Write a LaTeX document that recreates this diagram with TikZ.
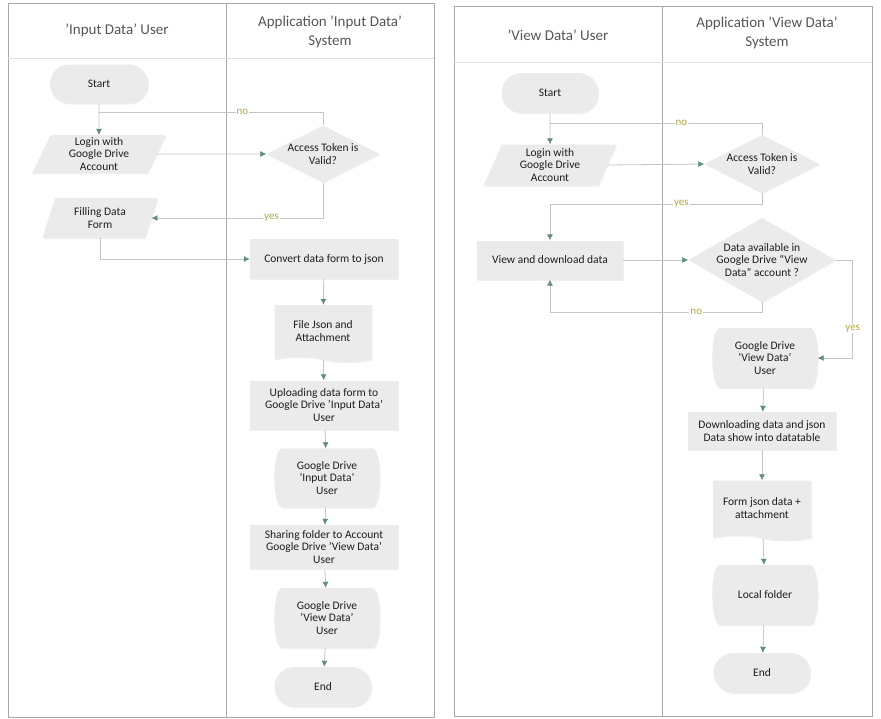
\documentclass[tikz,border=0pt]{standalone}
\usepackage{fontspec}
\setmainfont{Carlito}
\usetikzlibrary{shapes.geometric,shapes.misc,shapes.symbols,arrows.meta,shadows,backgrounds}
\definecolor{boxgray}{HTML}{EBEBEB}
\definecolor{linegray}{HTML}{C4C4C4}
\definecolor{tipteal}{HTML}{5E8C7E}
\definecolor{lblolive}{HTML}{B5A642}
\definecolor{lanegray}{HTML}{A8A8A8}
\definecolor{txtgray}{HTML}{1E1E1E}
\tikzset{
  boxtext/.style={text=txtgray, font=\fontsize{11.5}{12.5}\selectfont, align=center, inner sep=0pt},
  box/.style={boxtext, fill=boxgray, drop shadow={shadow xshift=1pt,shadow yshift=-1pt,opacity=0.12}},
  process/.style={box, rectangle, minimum width=148, minimum height=40},
  terminal/.style={box, rounded rectangle, minimum width=97, minimum height=40},
  io/.style={box, trapezium, trapezium left angle=71, trapezium right angle=109,
    trapezium stretches=true, minimum width=134, minimum height=38},
  decision/.style={box, diamond, shape aspect=2, inner sep=-2pt},
  document/.style={box, tape, tape bend top=none, tape bend bottom=out and in, minimum width=97, minimum height=57},
  stored/.style={boxtext, minimum width=105, minimum height=59},
  link/.style={draw=linegray, line width=0.8pt},
  flow/.style={link, -{Latex[color=tipteal,length=6pt,width=6pt]}},
  lbl/.style={text=lblolive, fill=white, inner sep=1pt, font=\fontsize{11}{12}\selectfont},
  lane/.style={draw=lanegray, line width=0.8pt},
  lanehead/.style={font=\fontsize{15}{19}\selectfont, text=txtgray!75, align=center}
}
\begin{document}
\begin{tikzpicture}[x=1pt,y=-1pt]
  \useasboundingbox (0,0) rectangle (881,718);
  % swimlanes
  \draw[lane] (8,3) rectangle (434,717);
  \draw[lane] (226,3) -- (226,717);
  \draw[lanegray!35] (8,58) -- (434,58);
  \draw[lane] (454,6) rectangle (872,716);
  \draw[lane] (662,6) -- (662,716);
  \draw[lanegray!35] (454,62) -- (872,62);
  \node[lanehead] (head1) at (117,30) {'Input Data' User};
  \node[lanehead] (head2) at (330,32) {Application 'Input Data'\\System};
  \node[lanehead] (head3) at (558,35) {'View Data' User};
  \node[lanehead] (head4) at (767,33) {Application 'View Data'\\System};

  % input data
  \node[terminal, minimum width=98, minimum height=39] (start1) at (99,84) {Start};
  \node[io] (login1) at (99,154) {Login with\\Google Drive\\Account};
  \node[io, minimum width=115, minimum height=40] (fill1) at (100,218) {Filling Data\\Form};
  \node[decision, minimum width=113, minimum height=57] (token1) at (323,154) {Access Token is\\Valid?};
  \node[process] (convert1) at (324,259) {Convert data form to json};
  \node[document] (file1) at (323,331) {File Json and\\Attachment};
  \node[process, minimum height=49] (upload1) at (324,405) {Uploading data form to\\Google Drive 'Input Data'\\User};
  \node[stored] (gdin1) at (327,478) {Google Drive\\'Input Data'\\User};
  \node[process, minimum height=44] (share1) at (324,547) {Sharing folder to Account\\Google Drive 'View Data'\\User};
  \node[stored, minimum height=60] (gdview1) at (327,618) {Google Drive\\'View Data'\\User};
  \node[terminal] (end1) at (323,687) {End};
  \coordinate (join1) at (99,112);

  % view data
  \node[terminal] (start2) at (550,93) {Start};
  \node[io, minimum width=133, minimum height=41] (login2) at (550,165) {Login with\\Google Drive\\Account};
  \node[decision, minimum width=115, minimum height=58] (token2) at (762,164) {Access Token is\\Valid?};
  \node[process, minimum width=146, minimum height=39] (view2) at (550,260) {View and download data};
  \node[decision, shape aspect=1.75, inner sep=-3pt, minimum width=147, minimum height=84] (avail2) at (762,260) {Data available in\\Google Drive ``View\\Data'' account ?};
  \node[stored, minimum height=60] (gdview2) at (765,358) {Google Drive\\'View Data'\\User};
  \node[process, minimum height=38] (down2) at (762,431) {Downloading data and json\\Data show into datatable};
  \node[document, minimum width=98, minimum height=60] (form2) at (762,508) {Form json data +\\attachment};
  \node[stored, minimum height=60] (local2) at (765,595) {Local folder};
  \node[terminal] (end2) at (762,673) {End};
  \coordinate (join2) at (550,123);

  % stored data outlines
  \begin{scope}[on background layer]
    \foreach \n in {gdin1,gdview1,gdview2,local2}
      \fill[boxgray, drop shadow={shadow xshift=1pt,shadow yshift=-1pt,opacity=0.12}]
        ([xshift=8pt]\n.north west) -- ([xshift=-8pt]\n.north east)
        .. controls ([xshift=2.7pt]\n.north east) and ([xshift=2.7pt]\n.south east) .. ([xshift=-8pt]\n.south east)
        -- ([xshift=8pt]\n.south west)
        .. controls ([xshift=-2.7pt]\n.south west) and ([xshift=-2.7pt]\n.north west) .. cycle;
  \end{scope}

  % input data connectors
  \draw[flow] (start1) -- (login1);
  \draw[flow] (login1.east) -- (token1.west);
  \draw[link] (token1.north) |- (join1) node[lbl, pos=0.68] {no};
  \draw[flow] (token1.south) |- (fill1.east) node[lbl, pos=0.65] {yes};
  \draw[flow] (fill1.south) |- (convert1.west);
  \draw[flow] (convert1) -- (file1);
  \draw[flow] (file1) -- (upload1);
  \draw[flow] (upload1) -- (gdin1);
  \draw[flow] (gdin1) -- (share1);
  \draw[flow] (share1) -- (gdview1);
  \draw[flow] (gdview1) -- (end1);

  % view data connectors
  \draw[flow] (start2) -- (login2);
  \draw[flow] (login2.east) -- (token2.west);
  \draw[link] (token2.north) |- (join2) node[lbl, pos=0.69] {no};
  \draw[flow] (token2.south) -- ++(0,11) -| (view2.north) node[lbl, pos=0.19] {yes};
  \draw[flow] (view2.east) -- (avail2.west);
  \draw[flow] (avail2.south) -- ++(0,10) -| (view2.south) node[lbl, pos=0.155] {no};
  \draw[flow] (avail2.east) -- ++(17,0) |- (gdview2.east) node[lbl, pos=0.35] {yes};
  \draw[flow] (gdview2) -- (down2);
  \draw[flow] (down2) -- (form2);
  \draw[flow] (form2) -- (local2);
  \draw[flow] (local2) -- (end2);
\end{tikzpicture}
\end{document}
